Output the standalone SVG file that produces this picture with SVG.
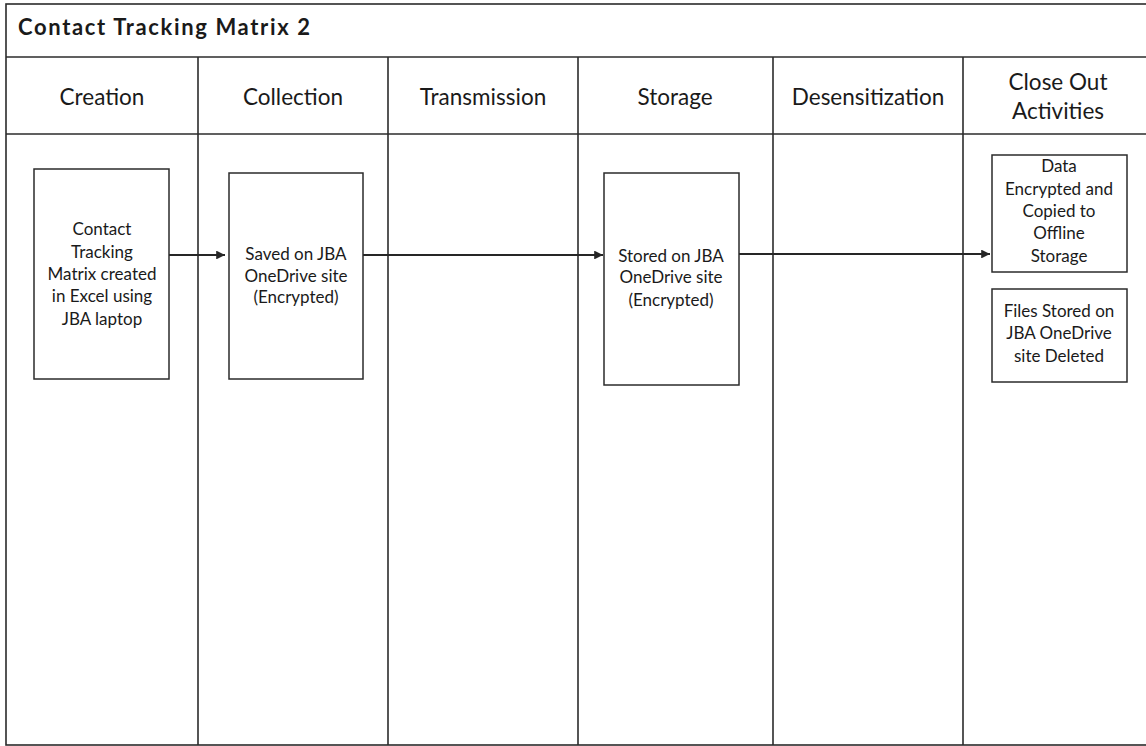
<svg xmlns="http://www.w3.org/2000/svg" width="1146" height="746" viewBox="0 0 1146 746">
  <defs>
    <marker id="arrow" viewBox="0 0 10 10" refX="10" refY="5" markerWidth="4" markerHeight="4" orient="auto" markerUnits="strokeWidth">
      <path d="M0,0 L10,5 L0,10 z" fill="#262626"/>
    </marker>
    <style>
      .grid { stroke: #2b2b2b; stroke-width: 1.6; fill: none; }
      .box { fill: #ffffff; stroke: #2b2b2b; stroke-width: 1.5; }
      .title { font-family: Lato, "Open Sans", sans-serif; font-weight: bold; font-size: 22px; fill: #1a1a1a; }
      .head { font-family: Lato, "Open Sans", sans-serif; font-size: 22.5px; fill: #1a1a1a; text-anchor: middle; }
      .label { font-family: Lato, "Open Sans", sans-serif; font-size: 17px; fill: #1a1a1a; text-anchor: middle; }
      .flow { stroke: #262626; stroke-width: 2.2; fill: none; marker-end: url(#arrow); }
    </style>
  </defs>
  <rect width="1146" height="746" fill="#ffffff"/>

  <!-- frame, title band and swimlane grid -->
  <g id="frame">
    <rect class="grid" x="6" y="4" width="1150" height="741"/>
    <line class="grid" x1="6" y1="57" x2="1146" y2="57"/>
    <line class="grid" x1="6" y1="134" x2="1146" y2="134"/>
    <line class="grid" x1="198" y1="57" x2="198" y2="745"/>
    <line class="grid" x1="388" y1="57" x2="388" y2="745"/>
    <line class="grid" x1="578" y1="57" x2="578" y2="745"/>
    <line class="grid" x1="773" y1="57" x2="773" y2="745"/>
    <line class="grid" x1="963" y1="57" x2="963" y2="745"/>
    <text class="title" x="18" y="35" textLength="292" lengthAdjust="spacing">Contact Tracking Matrix 2</text>
  </g>

  <!-- lane headings -->
  <g id="lane-headers">
    <text class="head" x="102" y="105">Creation</text>
    <text class="head" x="293" y="105">Collection</text>
    <text class="head" x="483" y="105">Transmission</text>
    <text class="head" x="675" y="105">Storage</text>
    <text class="head" x="868" y="105">Desensitization</text>
    <text class="head" x="1058" y="90">Close Out</text>
    <text class="head" x="1058" y="119">Activities</text>
  </g>

  <!-- connectors -->
  <g id="connectors">
    <line class="flow" x1="169" y1="255" x2="225" y2="255"/>
    <line class="flow" x1="363" y1="255" x2="603" y2="255"/>
    <line class="flow" x1="739" y1="254" x2="990" y2="254"/>
  </g>

  <g id="node-creation">
    <rect class="box" x="34" y="169" width="135" height="210"/>
    <text class="label" x="102" y="235">Contact</text>
    <text class="label" x="102" y="258">Tracking</text>
    <text class="label" x="102" y="280">Matrix created</text>
    <text class="label" x="102" y="302">in Excel using</text>
    <text class="label" x="102" y="325">JBA laptop</text>
  </g>

  <g id="node-collection">
    <rect class="box" x="229" y="173" width="134" height="206"/>
    <text class="label" x="296" y="260">Saved on JBA</text>
    <text class="label" x="296" y="282">OneDrive site</text>
    <text class="label" x="296" y="303">(Encrypted)</text>
  </g>

  <g id="node-storage">
    <rect class="box" x="604" y="173" width="135" height="212"/>
    <text class="label" x="671" y="262">Stored on JBA</text>
    <text class="label" x="671" y="283">OneDrive site</text>
    <text class="label" x="671" y="306">(Encrypted)</text>
  </g>

  <g id="node-offline-copy">
    <rect class="box" x="992" y="155" width="135" height="117"/>
    <text class="label" x="1059" y="172">Data</text>
    <text class="label" x="1059" y="195">Encrypted and</text>
    <text class="label" x="1059" y="217">Copied to</text>
    <text class="label" x="1059" y="239">Offline</text>
    <text class="label" x="1059" y="262">Storage</text>
  </g>

  <g id="node-delete">
    <rect class="box" x="992" y="289" width="135" height="93"/>
    <text class="label" x="1059" y="317">Files Stored on</text>
    <text class="label" x="1059" y="339">JBA OneDrive</text>
    <text class="label" x="1059" y="362">site Deleted</text>
  </g>
</svg>
